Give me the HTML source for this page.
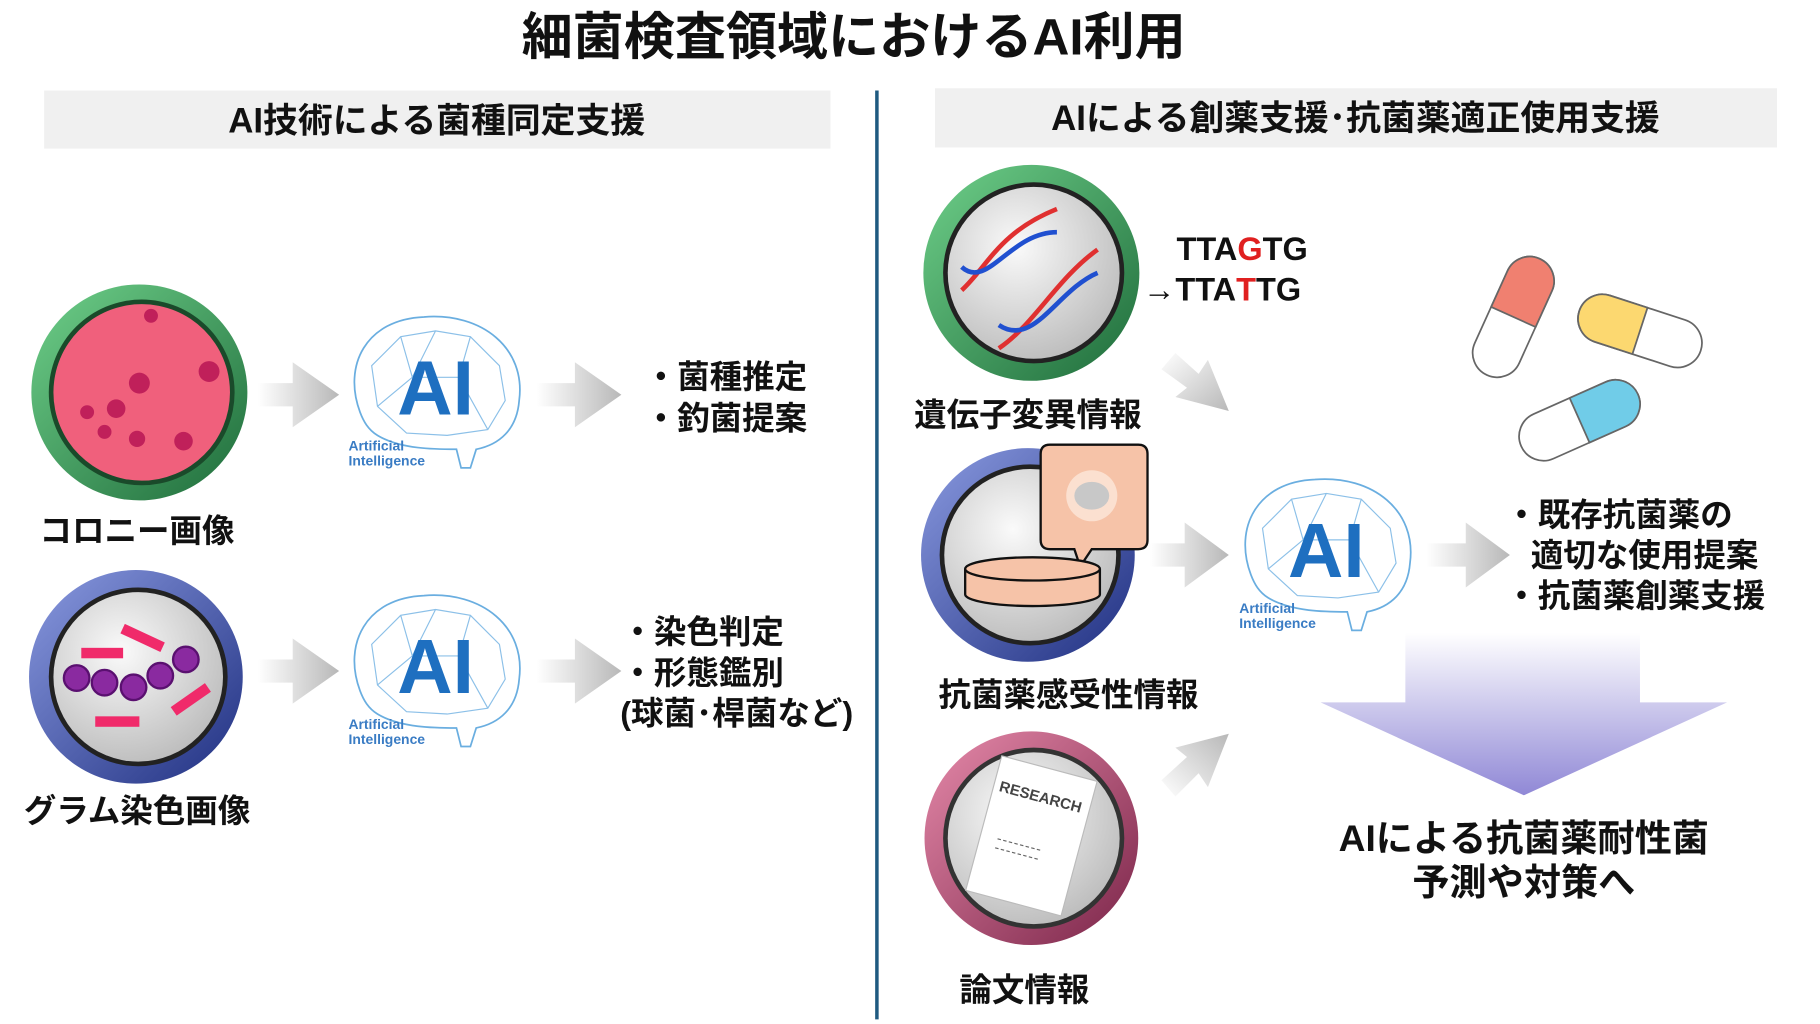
<!DOCTYPE html>
<html><head><meta charset="utf-8"><style>
html,body{margin:0;padding:0;background:#fff;}
svg{display:block;}
text{font-family:"Liberation Sans","Noto Sans CJK JP",sans-serif;font-weight:bold;}
</style></head><body>
<svg width="1820" height="1024" viewBox="0 0 1567 882" preserveAspectRatio="none" xmlns="http://www.w3.org/2000/svg">
<defs>
<linearGradient id="arr" x1="0" x2="1" y1="0" y2="0"><stop offset="0" stop-color="#fff"/><stop offset="1" stop-color="#b8b8b8"/></linearGradient>
<linearGradient id="arrd1" x1="0" y1="0" x2="1" y2="1"><stop offset="0" stop-color="#fff"/><stop offset="1" stop-color="#b8b8b8"/></linearGradient>
<linearGradient id="arrd2" x1="0" y1="1" x2="1" y2="0"><stop offset="0" stop-color="#fff"/><stop offset="1" stop-color="#b8b8b8"/></linearGradient>
<linearGradient id="big" x1="0" x2="0" y1="0" y2="1"><stop offset="0" stop-color="#fff"/><stop offset="1" stop-color="#9088d6"/></linearGradient>
<linearGradient id="gr" x1="0" y1="0" x2="1" y2="1"><stop offset="0" stop-color="#6fd08a"/><stop offset="1" stop-color="#1e6b3a"/></linearGradient>
<linearGradient id="bl" x1="0" y1="0" x2="1" y2="1"><stop offset="0" stop-color="#8a9ae0"/><stop offset="1" stop-color="#1f2f80"/></linearGradient>
<linearGradient id="pk" x1="0" y1="0" x2="1" y2="1"><stop offset="0" stop-color="#e68aaa"/><stop offset="1" stop-color="#7a2448"/></linearGradient>
<radialGradient id="glass" cx="0.4" cy="0.35" r="0.7"><stop offset="0" stop-color="#fafafa"/><stop offset="1" stop-color="#bcbcbc"/></radialGradient>
</defs>

<text x="735" y="47" font-size="44" text-anchor="middle" fill="#111">細菌検査領域におけるAI利用</text>

<rect x="38" y="78" width="677" height="50" fill="#f0f0f0"/>
<text x="376" y="114" font-size="30" text-anchor="middle" fill="#111">AI技術による菌種同定支援</text>
<rect x="805" y="76" width="725" height="51" fill="#f0f0f0"/>
<text x="1167" y="112" font-size="30" text-anchor="middle" fill="#111">AIによる創薬支援･抗菌薬適正使用支援</text>
<line x1="755" y1="78" x2="755" y2="878" stroke="#1f5a80" stroke-width="3"/>

<!-- colony dish -->
<circle cx="120" cy="338" r="93" fill="url(#gr)"/>
<circle cx="122" cy="338" r="80" fill="#1a4a2a"/>
<circle cx="122" cy="338" r="76" fill="#f0607c"/>
<g fill="#c0205a"><circle cx="100" cy="352" r="8"/><circle cx="118" cy="378" r="7"/><circle cx="90" cy="372" r="6"/><circle cx="158" cy="380" r="8"/><circle cx="180" cy="320" r="9"/><circle cx="120" cy="330" r="9"/><circle cx="75" cy="355" r="6"/><circle cx="130" cy="272" r="6"/></g>
<text x="118" y="467" font-size="28" text-anchor="middle" fill="#111">コロニー画像</text>

<!-- gram dish -->
<circle cx="117" cy="583" r="92" fill="url(#bl)"/>
<circle cx="119" cy="583" r="77" fill="#222"/>
<circle cx="119" cy="583" r="73" fill="url(#glass)"/>
<g fill="#8a2aa0" stroke="#5a1070" stroke-width="2"><circle cx="66" cy="584" r="11"/><circle cx="90" cy="588" r="11"/><circle cx="115" cy="592" r="11"/><circle cx="138" cy="582" r="11"/><circle cx="160" cy="568" r="11"/></g>
<g fill="#f02a6a"><rect x="104" y="545" width="38" height="9" transform="rotate(25 123 549)"/><rect x="70" y="558" width="36" height="9"/><rect x="146" y="598" width="36" height="9" transform="rotate(-35 164 602)"/><rect x="82" y="617" width="38" height="9"/></g>
<text x="118" y="708" font-size="28" text-anchor="middle" fill="#111">グラム染色画像</text>

<!-- arrows left -->
<polygon points="222,330 252,330 252,312 292,340 252,368 252,350 222,350" fill="url(#arr)"/>
<polygon points="462,330 495,330 495,312 535,340 495,368 495,350 462,350" fill="url(#arr)"/>
<polygon points="222,568 252,568 252,550 292,578 252,606 252,588 222,588" fill="url(#arr)"/>
<polygon points="462,568 495,568 495,550 535,578 495,606 495,588 462,588" fill="url(#arr)"/>

<!-- AI brain 1 -->
<g transform="translate(375,335)">
<path d="M-65,20 C-80,-20 -60,-60 -10,-62 C40,-66 78,-35 72,10 C70,35 55,48 35,52 L30,68 L22,68 L18,52 C0,52 -30,52 -50,40 C-58,35 -62,28 -65,20 Z" fill="none" stroke="#6aaee0" stroke-width="1.5"/>
<g stroke="#8cc0e8" stroke-width="1" fill="none"><path d="M-55,-20 L-30,-45 L0,-50 L30,-45 L55,-20 L60,10 L45,35 L10,40 L-25,38 L-50,15 Z M-30,-45 L-20,-10 L0,-50 M30,-45 L20,-10 M-50,15 L-20,-10 L20,-10 L45,35"/></g>
<text x="0" y="22" font-size="66" text-anchor="middle" fill="#1e6fc0" font-family="Liberation Sans,sans-serif">AI</text>
<text x="-75" y="53" font-size="12" fill="#3a7cc4">Artificial</text>
<text x="-75" y="66" font-size="12" fill="#3a7cc4">Intelligence</text>
</g>
<!-- AI brain 2 -->
<g transform="translate(375,575)">
<path d="M-65,20 C-80,-20 -60,-60 -10,-62 C40,-66 78,-35 72,10 C70,35 55,48 35,52 L30,68 L22,68 L18,52 C0,52 -30,52 -50,40 C-58,35 -62,28 -65,20 Z" fill="none" stroke="#6aaee0" stroke-width="1.5"/>
<g stroke="#8cc0e8" stroke-width="1" fill="none"><path d="M-55,-20 L-30,-45 L0,-50 L30,-45 L55,-20 L60,10 L45,35 L10,40 L-25,38 L-50,15 Z M-30,-45 L-20,-10 L0,-50 M30,-45 L20,-10 M-50,15 L-20,-10 L20,-10 L45,35"/></g>
<text x="0" y="22" font-size="66" text-anchor="middle" fill="#1e6fc0" font-family="Liberation Sans,sans-serif">AI</text>
<text x="-75" y="53" font-size="12" fill="#3a7cc4">Artificial</text>
<text x="-75" y="66" font-size="12" fill="#3a7cc4">Intelligence</text>
</g>
<!-- AI brain 3 -->
<g transform="translate(1142,475)">
<path d="M-65,20 C-80,-20 -60,-60 -10,-62 C40,-66 78,-35 72,10 C70,35 55,48 35,52 L30,68 L22,68 L18,52 C0,52 -30,52 -50,40 C-58,35 -62,28 -65,20 Z" fill="none" stroke="#6aaee0" stroke-width="1.5"/>
<g stroke="#8cc0e8" stroke-width="1" fill="none"><path d="M-55,-20 L-30,-45 L0,-50 L30,-45 L55,-20 L60,10 L45,35 L10,40 L-25,38 L-50,15 Z M-30,-45 L-20,-10 L0,-50 M30,-45 L20,-10 M-50,15 L-20,-10 L20,-10 L45,35"/></g>
<text x="0" y="22" font-size="66" text-anchor="middle" fill="#1e6fc0" font-family="Liberation Sans,sans-serif">AI</text>
<text x="-75" y="53" font-size="12" fill="#3a7cc4">Artificial</text>
<text x="-75" y="66" font-size="12" fill="#3a7cc4">Intelligence</text>
</g>

<g font-size="28" fill="#111">
<text x="555" y="334">・菌種推定</text>
<text x="555" y="370">・釣菌提案</text>
<text x="535" y="554">・染色判定</text>
<text x="535" y="589">・形態鑑別</text>
<text x="534" y="624">(球菌･桿菌など)</text>
</g>

<!-- DNA dish -->
<circle cx="888" cy="235" r="93" fill="url(#gr)"/>
<circle cx="890" cy="235" r="78" fill="#222"/>
<circle cx="890" cy="235" r="74" fill="url(#glass)"/>
<g fill="none" stroke-width="4"><path d="M828,250 C850,230 860,200 910,180" stroke="#e03030"/><path d="M828,230 C850,250 870,200 910,200" stroke="#2050d0"/><path d="M860,300 C890,280 910,240 945,215" stroke="#e03030"/><path d="M860,280 C890,300 910,250 945,235" stroke="#2050d0"/></g>
<text x="1013" y="224" font-size="28" fill="#111" font-family="Liberation Sans,sans-serif">TTA<tspan fill="#e02020">G</tspan>TG</text>
<text x="984" y="259" font-size="28" fill="#111" font-family="Liberation Sans,sans-serif">→TTA<tspan fill="#e02020">T</tspan>TG</text>
<text x="885" y="367" font-size="28" text-anchor="middle" fill="#111">遺伝子変異情報</text>

<!-- susceptibility dish -->
<circle cx="885" cy="478" r="92" fill="url(#bl)"/>
<circle cx="887" cy="478" r="78" fill="#222"/>
<circle cx="887" cy="478" r="74" fill="url(#glass)"/>
<path d="M904,383 H980 Q988,383 988,391 V465 Q988,473 980,473 H940 L930,488 L925,473 H904 Q896,473 896,465 V391 Q896,383 904,383 Z" fill="#f6c3a8" stroke="#111" stroke-width="2"/>
<circle cx="940" cy="427" r="22" fill="#fbe0d0"/><ellipse cx="940" cy="427" rx="15" ry="12" fill="#c8c8c8"/>
<path d="M831,490 V512 A58,10 0 0 0 947,512 V490" fill="#f6c3a8" stroke="#111" stroke-width="2"/>
<ellipse cx="889" cy="490" rx="58" ry="10" fill="#f6c3a8" stroke="#111" stroke-width="2"/>
<text x="920" y="608" font-size="28" text-anchor="middle" fill="#111">抗菌薬感受性情報</text>

<!-- paper dish -->
<circle cx="888" cy="722" r="92" fill="url(#pk)"/>
<circle cx="890" cy="722" r="78" fill="#333"/>
<circle cx="890" cy="722" r="74" fill="url(#glass)"/>
<g transform="rotate(15 888 722)"><rect x="845" y="660" width="85" height="120" fill="#fff" stroke="#bbb"/>
<text x="850" y="690" font-size="13" fill="#444" font-family="Liberation Serif,serif">RESEARCH</text>
<line x1="860" y1="730" x2="900" y2="730" stroke="#666" stroke-dasharray="3 2"/><line x1="860" y1="738" x2="900" y2="738" stroke="#666" stroke-dasharray="3 2"/></g>
<text x="882" y="862" font-size="28" text-anchor="middle" fill="#111">論文情報</text>

<!-- right arrows -->
<polygon points="1000,318 1012,304 1032,322 1040,310 1058,354 1012,342 1022,334" fill="url(#arrd1)"/>
<polygon points="1000,672 1022,652 1012,644 1058,632 1040,678 1032,666 1012,686" fill="url(#arrd2)"/>
<polygon points="990,468 1020,468 1020,450 1058,478 1020,506 1020,488 990,488" fill="url(#arr)"/>
<polygon points="1228,468 1262,468 1262,450 1300,478 1262,506 1262,488 1228,488" fill="url(#arr)"/>

<g font-size="28" fill="#111">
<text x="1296" y="453">・既存抗菌薬の</text>
<text x="1318" y="488">適切な使用提案</text>
<text x="1296" y="523">・抗菌薬創薬支援</text>
</g>

<!-- pills -->
<g stroke="#666" stroke-width="1.5">
<g transform="translate(1303,273) rotate(-65.6)"><rect x="-55" y="-21" width="110" height="42" rx="21" fill="#fff"/><path d="M0,-21 H34 A21,21 0 0 1 34,21 H0 Z" fill="#f08070"/></g>
<g transform="translate(1412,285) rotate(18)"><rect x="-55" y="-21" width="110" height="42" rx="21" fill="#fff"/><path d="M0,-21 H-34 A21,21 0 0 0 -34,21 H0 Z" fill="#fcd870"/></g>
<g transform="translate(1360,362) rotate(-24)"><rect x="-55" y="-21" width="110" height="42" rx="21" fill="#fff"/><path d="M0,-21 H34 A21,21 0 0 1 34,21 H0 Z" fill="#70cce8"/></g>
</g>

<!-- big down arrow -->
<polygon points="1210,545 1412,545 1412,605 1487,605 1312,685 1137,605 1210,605" fill="url(#big)"/>
<text x="1312" y="733" font-size="32" text-anchor="middle" fill="#111">AIによる抗菌薬耐性菌</text>
<text x="1312" y="771" font-size="32" text-anchor="middle" fill="#111">予測や対策へ</text>
</svg>
</body></html>
